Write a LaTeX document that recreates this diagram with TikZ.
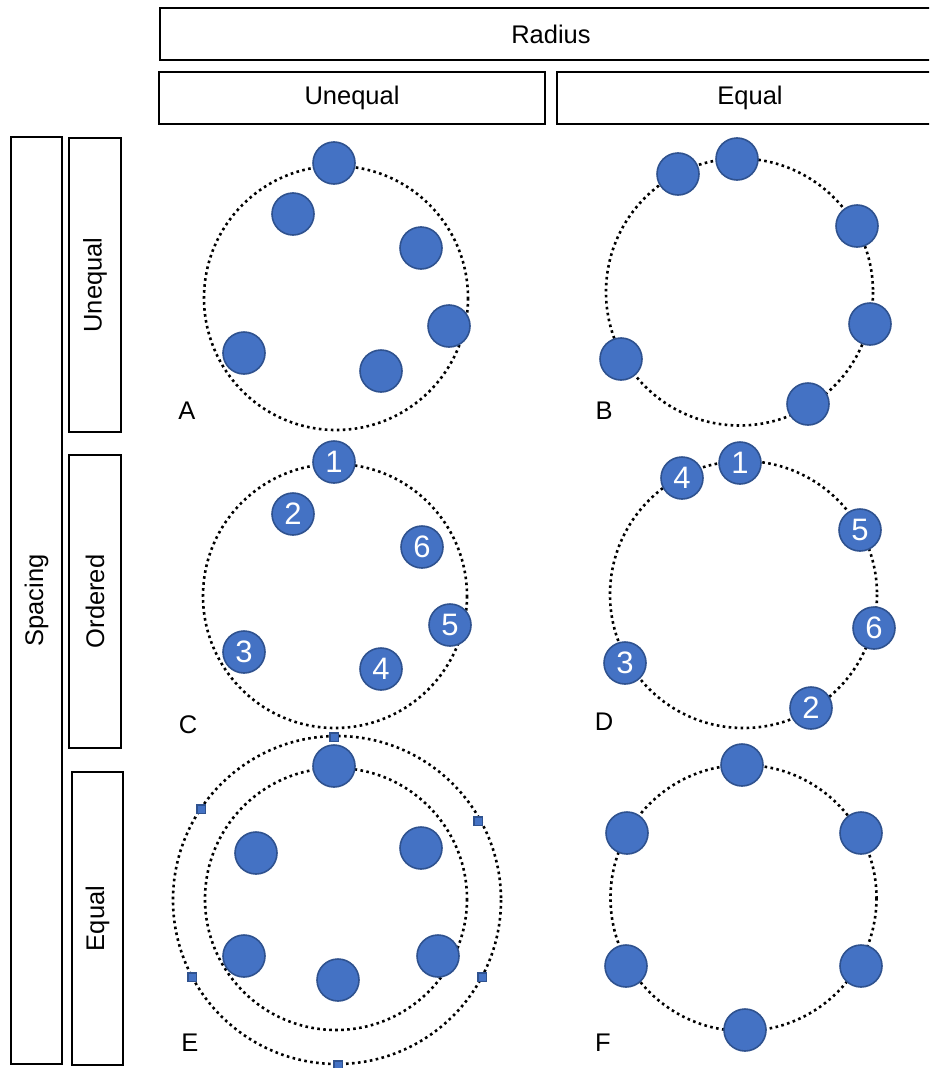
\documentclass[tikz,border=0pt]{standalone}
\usepackage{fontspec}
\setmainfont{Liberation Sans}
\definecolor{dotfill}{HTML}{4472C4}
\definecolor{dotedge}{HTML}{2F528F}
\begin{document}
\begin{tikzpicture}[x=1pt,y=-1pt,
  box/.style={draw=black,line width=1.8pt,inner sep=0pt,font=\fontsize{25.5}{30}\selectfont},
  ring/.style={draw=black,line width=2.6pt,dash pattern=on 2.6pt off 3.4pt},
  ball/.style={circle,draw=dotedge,line width=1.6pt,fill=dotfill,minimum size=42pt,inner sep=0pt,text=white,font=\fontsize{31}{31}\selectfont},
  tick/.style={rectangle,draw=dotedge,line width=1.5pt,fill=dotfill,minimum size=8.5pt,inner sep=0pt},
  tag/.style={inner sep=0pt,font=\fontsize{25.5}{30}\selectfont}]
\useasboundingbox (0,0) rectangle (929,1068);
\clip (0,0) rectangle (929,1068);

% column headers
\node[box,minimum width=782pt,minimum height=52pt] (radius) at (551,34) {Radius};
\node[box,minimum width=386pt,minimum height=52pt] (rUneq) at (352,98) {Unequal};
\node[box,minimum width=386pt,minimum height=52pt] (rEq) at (750,98) {Equal};

% row headers
\node[box,rotate=90,minimum width=927pt,minimum height=51pt] (spacing) at (36.5,600.5) {Spacing};
\node[box,rotate=90,minimum width=294pt,minimum height=52pt] (sUneq) at (95,285) {Unequal};
\node[box,rotate=90,minimum width=293pt,minimum height=52pt] (sOrd) at (95,601.5) {Ordered};
\node[box,rotate=90,minimum width=293pt,minimum height=51pt] (sEq) at (97.5,918.5) {Equal};

% dotted guide circles
\coordinate (cA) at (336,298);
\coordinate (cB) at (739.5,292);
\coordinate (cC) at (335,596);
\coordinate (cD) at (743.5,594.5);
\coordinate (cE) at (336,899);
\coordinate (cF) at (743.5,898);
\draw[ring] (cA) circle[radius=132];
\draw[ring] (cB) circle[radius=133.5];
\draw[ring] (cC) circle[radius=132];
\draw[ring] (cD) circle[radius=133.5];
\draw[ring] (cE) circle[radius=131];
\draw[ring] (337,900) circle[radius=164];
\draw[ring] (cF) circle[radius=133];

% A: unequal radius, unequal spacing
\node[ball] (a1) at (334,163) {};
\node[ball] (a2) at (293,214) {};
\node[ball] (a3) at (421,248) {};
\node[ball] (a4) at (449,326) {};
\node[ball] (a5) at (244,353) {};
\node[ball] (a6) at (381,371) {};
\node[tag] (lA) at (187,411) {A};

% B: equal radius, unequal spacing
\node[ball] (b1) at (737,159) {};
\node[ball] (b2) at (678,174) {};
\node[ball] (b3) at (857,226) {};
\node[ball] (b4) at (870,324) {};
\node[ball] (b5) at (621,359) {};
\node[ball] (b6) at (808,404) {};
\node[tag] (lB) at (604,411) {B};

% C: unequal radius, ordered
\node[ball] (c1) at (334,462) {1};
\node[ball] (c2) at (293,514) {2};
\node[ball] (c6) at (422,547) {6};
\node[ball] (c5) at (450,625) {5};
\node[ball] (c3) at (244,652) {3};
\node[ball] (c4) at (381,669) {4};
\node[tag] (lC) at (188,725) {C};

% D: equal radius, ordered
\node[ball] (d4) at (682,478) {4};
\node[ball] (d1) at (740,463) {1};
\node[ball] (d5) at (860,530) {5};
\node[ball] (d6) at (874,628) {6};
\node[ball] (d3) at (625,663) {3};
\node[ball] (d2) at (811,708) {2};
\node[tag] (lD) at (604,722) {D};

% E: unequal radius, equal spacing (angular marks on the outer circle)
\node[tick] (t1) at (334,737) {};
\node[tick] (t2) at (201,809) {};
\node[tick] (t3) at (478,821) {};
\node[tick] (t4) at (192,977) {};
\node[tick] (t5) at (482,977) {};
\node[tick] (t6) at (338,1065) {};
\node[ball] (e1) at (334,766) {};
\node[ball] (e2) at (256,853) {};
\node[ball] (e3) at (421,848) {};
\node[ball] (e4) at (244,956) {};
\node[ball] (e5) at (338,980) {};
\node[ball] (e6) at (438,956) {};
\node[tag] (lE) at (190,1043) {E};

% F: equal radius, equal spacing
\node[ball] (f1) at (742,765) {};
\node[ball] (f2) at (627,833) {};
\node[ball] (f3) at (861,833) {};
\node[ball] (f4) at (626,966) {};
\node[ball] (f5) at (861,966) {};
\node[ball] (f6) at (745,1030) {};
\node[tag] (lF) at (603,1043) {F};
\end{tikzpicture}
\end{document}
